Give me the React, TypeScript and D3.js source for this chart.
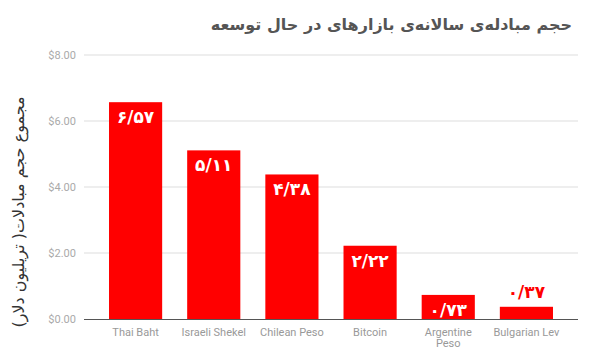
import React from "react";
import * as d3 from "d3";

const categories = ["Thai Baht", "Israeli Shekel", "Chilean Peso", "Bitcoin", "Argentine Peso", "Bulgarian Lev"];
const values = [6.57, 5.11, 4.38, 2.22, 0.73, 0.37];
const valueLabels = ["۶/۵۷", "۵/۱۱", "۴/۳۸", "۲/۲۲", "۰/۷۳", "۰/۳۷"];
const yTicks = [0, 2, 4, 6, 8];
const title = "حجم مبادله‌ی سالانه‌ی بازارهای در حال توسعه";
const yTitle = "مجموع حجم مبادلات( تریلیون دلار)";

const W = 596;
const H = 359;
const left = 84;
const right = 578;
const top = 55;
const bottom = 319;

export default function App() {
  const x = d3.scaleBand<string>().domain(categories).range([left, right]).paddingInner(0.32).paddingOuter(0.32);
  const y = d3.scaleLinear().domain([0, 8]).range([bottom, top]);
  const fmt = d3.format("$.2f");
  return (
    <svg width={W} height={H} style={{ position: "absolute", left: 0, top: 0, background: "#fff" }}>
      <text x={572} y={30} textAnchor="start" direction="rtl" fontFamily="DejaVu Sans" fontWeight="bold" fontSize={16} fill="#555">
        {title}
      </text>
      <text
        transform={`translate(24, ${212}) rotate(-90)`}
        textAnchor="middle"
        fontFamily="DejaVu Sans"
        fontSize={16}
        fill="#333"
      >
        {yTitle}
      </text>
      {yTicks.map((t) => (
        <g key={t}>
          {t !== 0 && <line x1={left} x2={right} y1={y(t)} y2={y(t)} stroke="#ddd" strokeWidth={1} />}
          <text x={76} y={y(t) + 4} textAnchor="end" fontFamily="Roboto" fontSize={11} fill="#aaa">
            {fmt(t)}
          </text>
        </g>
      ))}
      {categories.map((c, i) => {
        const bx = x(c)!;
        const bw = x.bandwidth();
        const by = y(values[i]);
        const h = y(0) - by;
        const inside = h > 20;
        const words = c === "Argentine Peso" ? ["Argentine", "Peso"] : [c];
        return (
          <g key={c}>
            <rect x={bx} y={by} width={bw} height={h} fill="#ff0000" />
            <text
              x={bx + bw / 2}
              y={inside ? by + 21 : by - 9}
              textAnchor="middle"
              fontFamily="DejaVu Sans"
              fontWeight="bold"
              fontSize={17}
              fill={inside ? "#fff" : "#ff0000"}
            >
              {valueLabels[i]}
            </text>
            <text x={bx + bw / 2} y={335.5} textAnchor="middle" fontFamily="Roboto" fontSize={11} fill="#999">
              {words.map((w, k) => (
                <tspan key={k} x={bx + bw / 2} dy={k === 0 ? 0 : 11.5}>
                  {w}
                </tspan>
              ))}
            </text>
          </g>
        );
      })}
      <line x1={left} x2={right} y1={y(0) + 0.5} y2={y(0) + 0.5} stroke="#555" strokeWidth={1} />
    </svg>
  );
}
